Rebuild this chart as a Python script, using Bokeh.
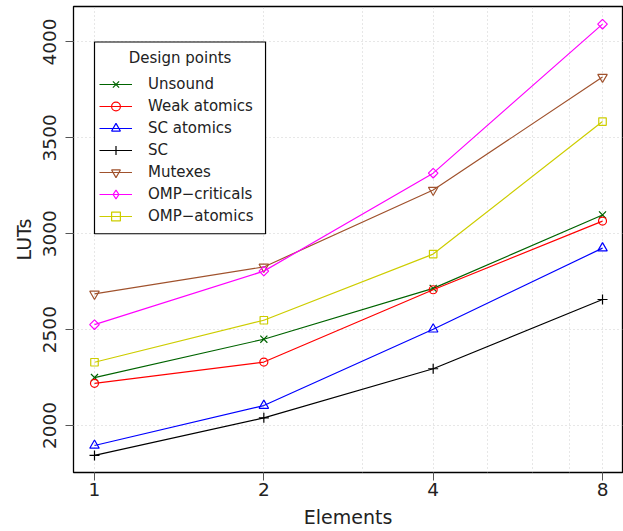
import math
from bokeh.plotting import figure
from bokeh.models import Range1d, FixedTicker, Legend, LegendItem, BoxAnnotation, Label
from bokeh.embed import file_html
from bokeh.resources import INLINE

elements = [1, 2, 4, 8]
unsound = [2250, 2450, 2715, 3098]
weak_atomics = [2220, 2331, 2708, 3066]
sc_atomics = [1896, 2104, 2502, 2925]
sc = [1844, 2040, 2296, 2657]
mutexes = [2686, 2827, 3228, 3817]
omp_criticals = [2526, 2805, 3316, 4093]
omp_atomics = [2330, 2549, 2894, 3585]

x_ticks = [1, 2, 4, 8]
x_grid = [1, 2, 3, 4, 5, 6, 7, 8]
y_ticks = [2000, 2500, 3000, 3500, 4000]

FONT = "DejaVu Sans"

p = figure(width=623, height=531, x_axis_type="log",
           x_range=Range1d(2 ** -0.124, 2 ** 3.118), y_range=Range1d(1755, 4185),
           output_backend="svg", toolbar_location=None,
           min_border_left=73, min_border_right=1, min_border_top=6, min_border_bottom=59)

p.outline_line_color = "black"
p.outline_line_width = 1.3
p.background_fill_color = "white"

p.xaxis.ticker = FixedTicker(ticks=x_ticks)
p.yaxis.ticker = FixedTicker(ticks=y_ticks)
p.xgrid.ticker = FixedTicker(ticks=x_grid)
p.ygrid.ticker = FixedTicker(ticks=y_ticks)
for g in (p.xgrid, p.ygrid):
    g.grid_line_color = "#cfcfcf"
    g.grid_line_dash = "1 3"
    g.grid_line_width = 1

p.xaxis.major_label_overrides = {1: "1", 2: "2", 4: "4", 8: "8"}
for ax in (p.xaxis, p.yaxis):
    ax.axis_line_color = None
    ax.major_tick_in = 0
    ax.major_tick_out = 8
    ax.major_tick_line_color = "#555555"
    ax.minor_tick_line_color = None
    ax.major_label_text_font = FONT
    ax.major_label_text_font_size = "18.5px"
    ax.major_label_text_color = "#222222"
    ax.axis_label_text_font = FONT
    ax.axis_label_text_font_size = "19px"
    ax.axis_label_text_font_style = "normal"
    ax.axis_label_text_color = "#222222"

p.xaxis.axis_label = "Elements"
p.yaxis.axis_label = "LUTs"
p.yaxis.major_label_orientation = "vertical"
p.xaxis.major_label_standoff = 2
p.xaxis.axis_label_standoff = 7
p.yaxis.major_label_standoff = 9
p.yaxis.axis_label_standoff = 6

# legend frame (placed at x=1, y=4000 like the original)
legend_box = BoxAnnotation(left=1, right=2.014, top=4000, bottom=3000,
                           fill_color="white", fill_alpha=1.0,
                           line_color="black", line_alpha=1.0, line_width=1.2,
                           level="annotation")
p.add_layout(legend_box)
p.add_layout(Label(x=2 ** 0.505, y=3919, text="Design points", text_align="center",
                   text_baseline="middle", text_font=FONT, text_font_size="15px",
                   text_color="#222222", level="annotation"))

series = [
    ("Unsound", unsound, "#006400", "x"),
    ("Weak atomics", weak_atomics, "#FF0000", "circle"),
    ("SC atomics", sc_atomics, "#0000FF", "triangle"),
    ("SC", sc, "#000000", "cross"),
    ("Mutexes", mutexes, "#A0522D", "inverted_triangle"),
    ("OMP\u2212criticals", omp_criticals, "#FF00FF", "diamond"),
    ("OMP\u2212atomics", omp_atomics, "#CDCD00", "square"),
]
sizes = {"x": 10, "circle": 8, "triangle": 9.5, "cross": 10, "inverted_triangle": 9.5,
         "square": 7.5}

items = []
for name, vals, color, marker in series:
    r1 = p.line(elements, vals, line_color=color, line_width=1.2)
    if marker == "diamond":
        # R's diamond is a square turned by 45 degrees
        r2 = p.scatter(elements, vals, marker="square", size=6.8, angle=math.pi / 4,
                       line_color=color, fill_color=None, line_width=1.2)
        # legend-only glyph (no data points), since legend markers are never rotated
        r3 = p.scatter([math.nan], [math.nan], marker="diamond", size=12,
                       line_color=color, fill_color=None, line_width=1.2)
        renderers = [r1, r3]
    else:
        r2 = p.scatter(elements, vals, marker=marker, size=sizes[marker],
                       line_color=color, fill_color=None, line_width=1.2)
        renderers = [r1, r2]
    items.append(LegendItem(label=name, renderers=renderers))

legend = Legend(items=items, location=(26, 245),
                label_text_font=FONT, label_text_font_size="15px",
                label_text_color="#222222",
                glyph_width=33, glyph_height=22, label_height=22, label_width=100,
                label_standoff=16, spacing=0, padding=0, margin=0,
                border_line_color=None, background_fill_alpha=0.0)
p.add_layout(legend, "center")

open("out.html", "w").write(file_html(p, INLINE))
